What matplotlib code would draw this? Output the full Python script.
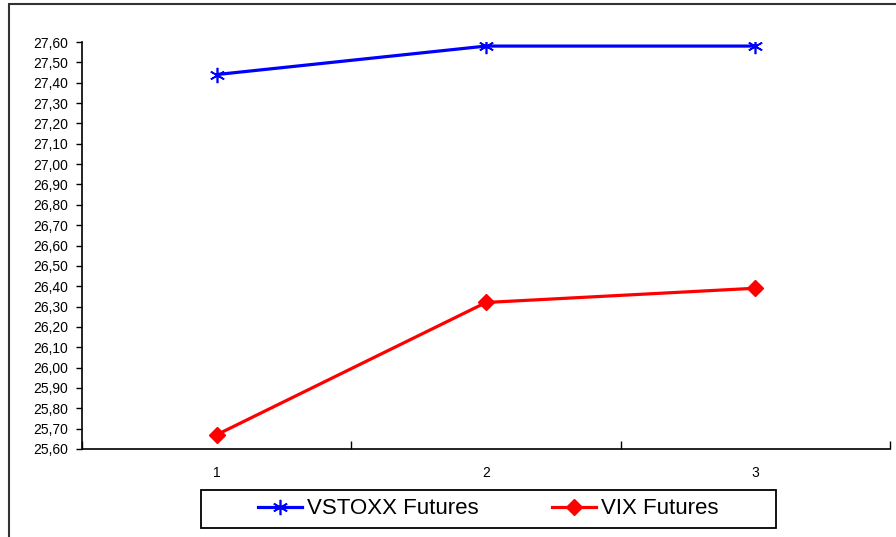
import numpy as np
import matplotlib
matplotlib.use("Agg")
import matplotlib.pyplot as plt
from matplotlib.ticker import FixedLocator, FuncFormatter
from matplotlib.patches import Rectangle

categories = ["1", "2", "3"]
vstoxx = [27.44, 27.58, 27.58]
vix = [25.67, 26.32, 26.39]
y_ticks = np.round(np.arange(25.6, 27.61, 0.1), 2)

plt.rcParams['font.family'] = ['Liberation Sans', 'DejaVu Sans']

fig = plt.figure(figsize=(8.96, 5.37), dpi=100)
# outer chart frame
fig.patches.append(Rectangle((9/896, -0.1), 1.0, 1 - 4/537 + 0.1, transform=fig.transFigure,
                             fill=False, edgecolor='#333333', linewidth=1.5))

ax = fig.add_axes([82/896, 1 - 449/537, 808/896, 407/537])
x = np.arange(1, len(categories) + 1)

ax.plot(x, vstoxx, color='#0000FF', linewidth=2.3, marker=(6, 2, 0), markersize=11,
        markeredgewidth=1.2, label='VSTOXX Futures')
ax.plot(x, vix, color='#FF0000', linewidth=2.3, marker='D', markersize=8,
        label='VIX Futures')

ax.set_xlim(0.5, len(categories) + 0.5)
ax.set_ylim(25.6, 27.6)

ax.xaxis.set_major_locator(FixedLocator(np.arange(0.5, len(categories) + 1, 1)))
ax.xaxis.set_major_formatter(FuncFormatter(lambda v, p: ''))
ax.set_xticks(x, labels=categories, minor=True)
ax.tick_params(axis='x', which='major', direction='in', length=6, width=1)
ax.tick_params(axis='x', which='minor', length=0, pad=12, labelsize=10)

ax.set_yticks(y_ticks)
ax.set_yticklabels([f"{v:.2f}".replace('.', ',') for v in y_ticks])
ax.tick_params(axis='y', direction='out', length=4, width=1, labelsize=10, pad=6)

for s in ['top', 'right']:
    ax.spines[s].set_visible(False)
for s in ['left', 'bottom']:
    ax.spines[s].set_linewidth(1.2)

# legend box drawn separately to get the wide side padding
fig.patches.append(Rectangle((201/896, 1 - 528/537), 575/896, 38/537, transform=fig.transFigure,
                             fill=False, edgecolor='black', linewidth=1.3))
leg = fig.legend(loc='center', bbox_to_anchor=(488/896, 1 - 509/537), ncol=2,
                 fontsize=16, frameon=False,
                 handlelength=2.0, handletextpad=0.2, columnspacing=3.3,
                 borderpad=0.2)

fig.savefig('out.png', dpi=100)
